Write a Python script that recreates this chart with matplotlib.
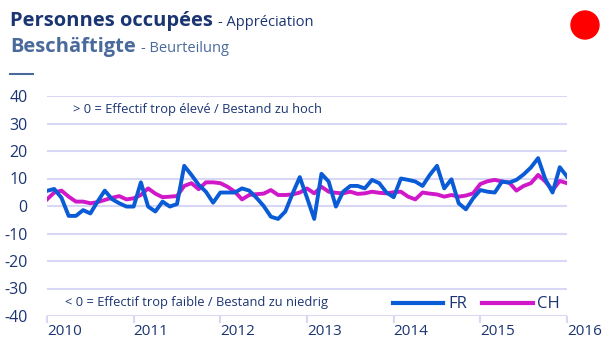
#!/usr/bin/env python3
import matplotlib
matplotlib.use('Agg')
import matplotlib.pyplot as plt
from matplotlib.patches import Ellipse
import numpy as np

# Monthly balance values, Jan 2010 .. Jan 2016
fr = [5.5, 6.2, 3.0, -3.6, -3.6, -1.5, -2.7, 1.6, 5.6, 2.5, 1.0, -0.2,
      -0.2, 8.6, -0.2, -2.0, 1.6, -0.2, 0.7, 14.6, 11.3, 7.7, 5.2, 1.2,
      4.9, 4.9, 4.9, 6.4, 5.6, 3.0, 0.0, -3.9, -4.7, -2.0, 4.5, 10.5,
      3.0, -4.7, 11.7, 8.9, -0.2, 5.2, 7.3, 7.3, 6.4, 9.5, 8.3, 4.9,
      3.2, 10.0, 9.5, 8.9, 7.3, 11.3, 14.6, 6.4, 9.7, 1.0, -1.2, 2.8,
      5.8, 5.2, 4.9, 8.9, 8.5, 9.5, 11.5, 14.0, 17.4, 9.7, 4.9, 14.1,
      10.7]
ch = [2.4, 4.9, 5.6, 3.4, 1.6, 1.6, 1.0, 1.4, 2.2, 3.0, 3.6, 2.4,
      2.8, 4.0, 6.4, 4.5, 3.2, 3.4, 3.6, 7.3, 8.3, 6.1, 8.6, 8.6,
      8.3, 7.0, 5.2, 2.4, 4.0, 4.3, 4.5, 5.8, 4.0, 4.0, 4.2, 4.9,
      6.4, 4.6, 7.0, 5.2, 4.8, 4.6, 5.2, 4.4, 4.6, 5.2, 4.8, 4.6,
      5.0, 5.2, 3.4, 2.4, 4.9, 4.5, 4.2, 3.4, 4.0, 3.4, 3.8, 4.6,
      8.0, 9.0, 9.5, 8.9, 8.5, 5.6, 7.3, 8.3, 11.3, 8.9, 5.8, 9.1,
      8.3]
years = [2010, 2011, 2012, 2013, 2014, 2015, 2016]
y_ticks = [40, 30, 20, 10, 0, -10, -20, -30, -40]

NAVY = '#1b3572'
STEEL = '#4a6a9c'
GRID = '#d8d8f6'
W, H = 603, 343
plt.rcParams['font.family'] = ['Open Sans', 'DejaVu Sans']

fig = plt.figure(figsize=(W / 100, H / 100), dpi=100)
ax = fig.add_axes([47 / W, 1 - 316 / H, 520 / W, 220 / H])

x = 2010 + np.arange(len(fr)) / 12.0
for v in y_ticks:
    ax.axhline(v, color=GRID, lw=1.5, zorder=0)
ax.plot(x, fr, color='#0a5bd6', lw=2.8, zorder=3)
ax.plot(x, ch, color='#d018c8', lw=2.8, zorder=2)

ax.set_xlim(2010, 2016)
ax.set_ylim(-40, 40)
for s in ax.spines.values():
    s.set_visible(False)
ax.set_yticks(y_ticks)
ax.set_yticklabels([str(v) if v >= 0 else '-' + str(-v) for v in y_ticks])
ax.tick_params(axis='y', length=0, pad=14, labelsize=11.5, labelcolor=NAVY)
ax.set_xticks(years)
ax.set_xticklabels([str(y) for y in years], ha='left')
ax.tick_params(axis='x', length=5, width=1.5, color=GRID, pad=1,
               labelsize=11, labelcolor=NAVY)

ytr = ax.get_yaxis_transform()
ax.text(0.05, 35, '> 0 = Effectif trop élevé / Bestand zu hoch',
        fontsize=9.3, color=NAVY, va='center', transform=ytr)
ax.text(0.035, -35, '< 0 = Effectif trop faible / Bestand zu niedrig',
        fontsize=9.3, color=NAVY, va='center', transform=ytr)

# legend drawn by hand in figure pixels
fig.add_artist(plt.Line2D([393 / W, 443 / W], [1 - 303 / H] * 2,
                          color='#0a5bd6', lw=3))
fig.add_artist(plt.Line2D([482 / W, 533 / W], [1 - 303 / H] * 2,
                          color='#d018c8', lw=3))
fig.text(448 / W, 1 - 304 / H, 'FR', fontsize=12, color=NAVY, va='center')
fig.text(537 / W, 1 - 304 / H, 'CH', fontsize=12, color=NAVY, va='center')

# header: bold title followed by a lighter suffix
renderer = fig.canvas.get_renderer()


def header(y, bold, rest, color):
    t = fig.text(10 / W, 1 - y / H, bold, fontsize=14.5, fontweight='bold',
                 color=color, va='baseline')
    x1 = t.get_window_extent(renderer).x1
    fig.text((x1 + 5) / W, 1 - y / H, rest, fontsize=10.5, color=color,
             va='baseline')


header(26, 'Personnes occupées', '- Appréciation', NAVY)
header(52, 'Beschäftigte', '- Beurteilung', STEEL)
fig.add_artist(plt.Line2D([10 / W, 33 / W], [1 - 74 / H] * 2,
                          color=STEEL, lw=1.5))
fig.add_artist(Ellipse((585 / W, 1 - 25 / H), 28 / W, 28 / H,
                       color='#ff0000', transform=fig.transFigure))

fig.savefig('out.png', dpi=100)
